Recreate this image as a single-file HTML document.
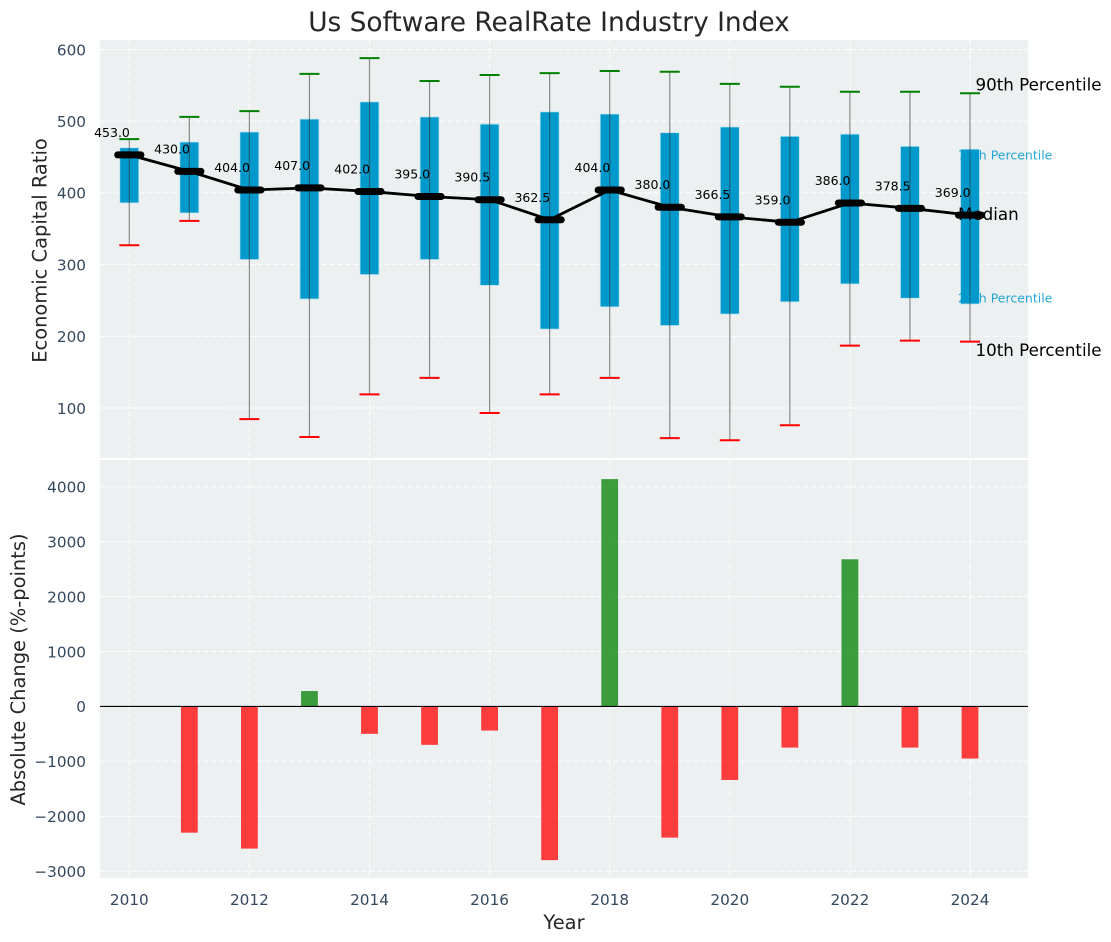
<!DOCTYPE html>
<html lang="en">
<head>
<meta charset="utf-8">
<title>Us Software RealRate Industry Index</title>
<style>
html,body{margin:0;padding:0;background:#fff;}
svg{display:block;font-family:"DejaVu Sans","Liberation Sans",sans-serif;}
</style>
</head>
<body>
<svg id="chart" width="1111" height="942" viewBox="0 0 1111 942" xmlns="http://www.w3.org/2000/svg"></svg>
<script>
const years = [2010,2011,2012,2013,2014,2015,2016,2017,2018,2019,2020,2021,2022,2023,2024];
const p90 = [475,506,514,566,588,556,564.5,567,570,569,552,548,541,541,539];
const q3 = [463,471,485,503,527,506,496,513,510,484,492,479,482,465,461];
const medians = [453,430,404,407,402,395,390.5,362.5,404,380,366.5,359,386,378.5,369];
const q1 = [386,372,307,252,286,307,271,210,241,215,231,248,273,253,245];
const p10 = [327,361,84.5,59.5,119,142,93,119,142,58,55,76,187,194,192.5];
const changes = [null,-2300,-2590,280,-500,-700,-440,-2800,4140,-2390,-1340,-750,2680,-750,-950];
const xTicks = [2010,2012,2014,2016,2018,2020,2022,2024];
const topTicks = [100,200,300,400,500,600];
const bottomTicks = [-3000,-2000,-1000,0,1000,2000,3000,4000];

const svg = document.getElementById('chart');
const NS = 'http://www.w3.org/2000/svg';
const X = v => 129.3 + (v - 2010) * 60.05;
const YT = v => 49.5 + (600 - v) * 0.7170;
const YB = v => 706.4 - v * 0.05490;

function add(tag, attrs, text) {
  const el = document.createElementNS(NS, tag);
  for (const k in attrs) el.setAttribute(k, attrs[k]);
  if (text !== undefined) el.textContent = text;
  svg.appendChild(el);
  return el;
}
function line(x1, y1, x2, y2, stroke, w, extra) {
  return add('line', Object.assign({x1, y1, x2, y2, stroke, 'stroke-width': w}, extra || {}));
}
const dash = {'stroke-dasharray': '5.5 2.4', 'stroke-opacity': '0.95'};
const tickSize = 15.28;
const titleSize = 26.4;
const axisSize = 19.45;

let el;
el = add('rect', {x: 100, y: 40, width: 928, height: 418, fill: '#ecf0f1'});


el = add('rect', {x: 100, y: 460, width: 928, height: 418, fill: '#ecf0f1'});



xTicks.forEach(t => {
  el = line(X(t), 40, X(t), 458, '#fff', 1, dash);
  
  
  el = line(X(t), 460, X(t), 878, '#fff', 1, dash);
  
  
  el = add('text', {x: X(t), y: 905, 'text-anchor': 'middle', 'font-size': tickSize, fill: '#34495e'}, String(t));
  
  
});
topTicks.forEach(t => {
  el = line(100, YT(t), 1028, YT(t), '#fff', 1, dash);
  
  
  el = add('text', {x: 86, y: YT(t) + 5.8, 'text-anchor': 'end', 'font-size': tickSize, fill: '#34495e'}, String(t));
  
  
});
bottomTicks.forEach(t => {
  el = line(100, YB(t), 1028, YB(t), '#fff', 1, dash);
  
  
  el = add('text', {x: 86, y: YB(t) + 5.8, 'text-anchor': 'end', 'font-size': tickSize, fill: '#34495e'}, String(t).replace('-', '\u2212'));
  
  
});

years.forEach((yr, i) => {
  const x = X(yr);
  el = add('rect', {x: x - 9.5, y: YT(q3[i]), width: 19, height: YT(q1[i]) - YT(q3[i]), fill: '#0099cc', stroke: '#bfe6f2', 'stroke-width': 0.8});
  
  
  el = line(x, YT(p90[i]), x, YT(p10[i]), '#333', 1.2, {'stroke-opacity': 0.55});
  
  
  el = line(x - 10, YT(p90[i]), x + 10, YT(p90[i]), '#008000', 2);
  
  
  el = line(x - 10, YT(p10[i]), x + 10, YT(p10[i]), '#ff0000', 2);
  
  
});

el = add('text', {x: 975.5, y: 90.5, 'font-size': 16.7, fill: '#000'}, '90th Percentile');


el = add('text', {x: 958, y: 159.5, 'font-size': 12.5, fill: '#0099cc', 'fill-opacity': 0.85}, '75th Percentile');


el = add('text', {x: 958, y: 220, 'font-size': 16.7, fill: '#000'}, 'Median');


el = add('text', {x: 958, y: 302.5, 'font-size': 12.5, fill: '#0099cc', 'fill-opacity': 0.85}, '25th Percentile');


el = add('text', {x: 975.5, y: 356, 'font-size': 16.7, fill: '#000'}, '10th Percentile');



el = add('polyline', {points: years.map((yr, i) => X(yr) + ',' + YT(medians[i])).join(' '), fill: 'none', stroke: '#000', 'stroke-width': 2.8});



years.forEach((yr, i) => {
  const x = X(yr), y = YT(medians[i]);
  el = line(x - 11.6, y, x + 11.6, y, '#000', 7, {'stroke-linecap': 'round'});
  
  
  el = add('text', {x: x + 0.6, y: y - 18, 'text-anchor': 'end', 'font-size': 12.5, fill: '#000'}, medians[i].toFixed(1));
  
  
});

years.forEach((yr, i) => {
  const v = changes[i];
  if (v === null) return;
  const top = Math.min(YB(v), YB(0));
  const h = Math.abs(YB(v) - YB(0));
  el = add('rect', {x: X(yr) - 8.4, y: top, width: 16.8, height: h, fill: v >= 0 ? '#008000' : '#ff0000', 'fill-opacity': 0.75});
  
  
});
el = line(100, YB(0), 1028, YB(0), '#000', 1.1);



el = add('text', {x: 549, y: 31, 'text-anchor': 'middle', 'font-size': titleSize, fill: '#262626'}, 'Us Software RealRate Industry Index');


el = add('text', {x: 564, y: 929, 'text-anchor': 'middle', 'font-size': axisSize, fill: '#262626'}, 'Year');


el = add('text', {transform: 'translate(46.5,250.5) rotate(-90)', 'text-anchor': 'middle', 'font-size': axisSize, fill: '#262626'}, 'Economic Capital Ratio');


el = add('text', {transform: 'translate(25,669.5) rotate(-90)', 'text-anchor': 'middle', 'font-size': axisSize, fill: '#262626'}, 'Absolute Change (%-points)');


</script>
</body>
</html>
